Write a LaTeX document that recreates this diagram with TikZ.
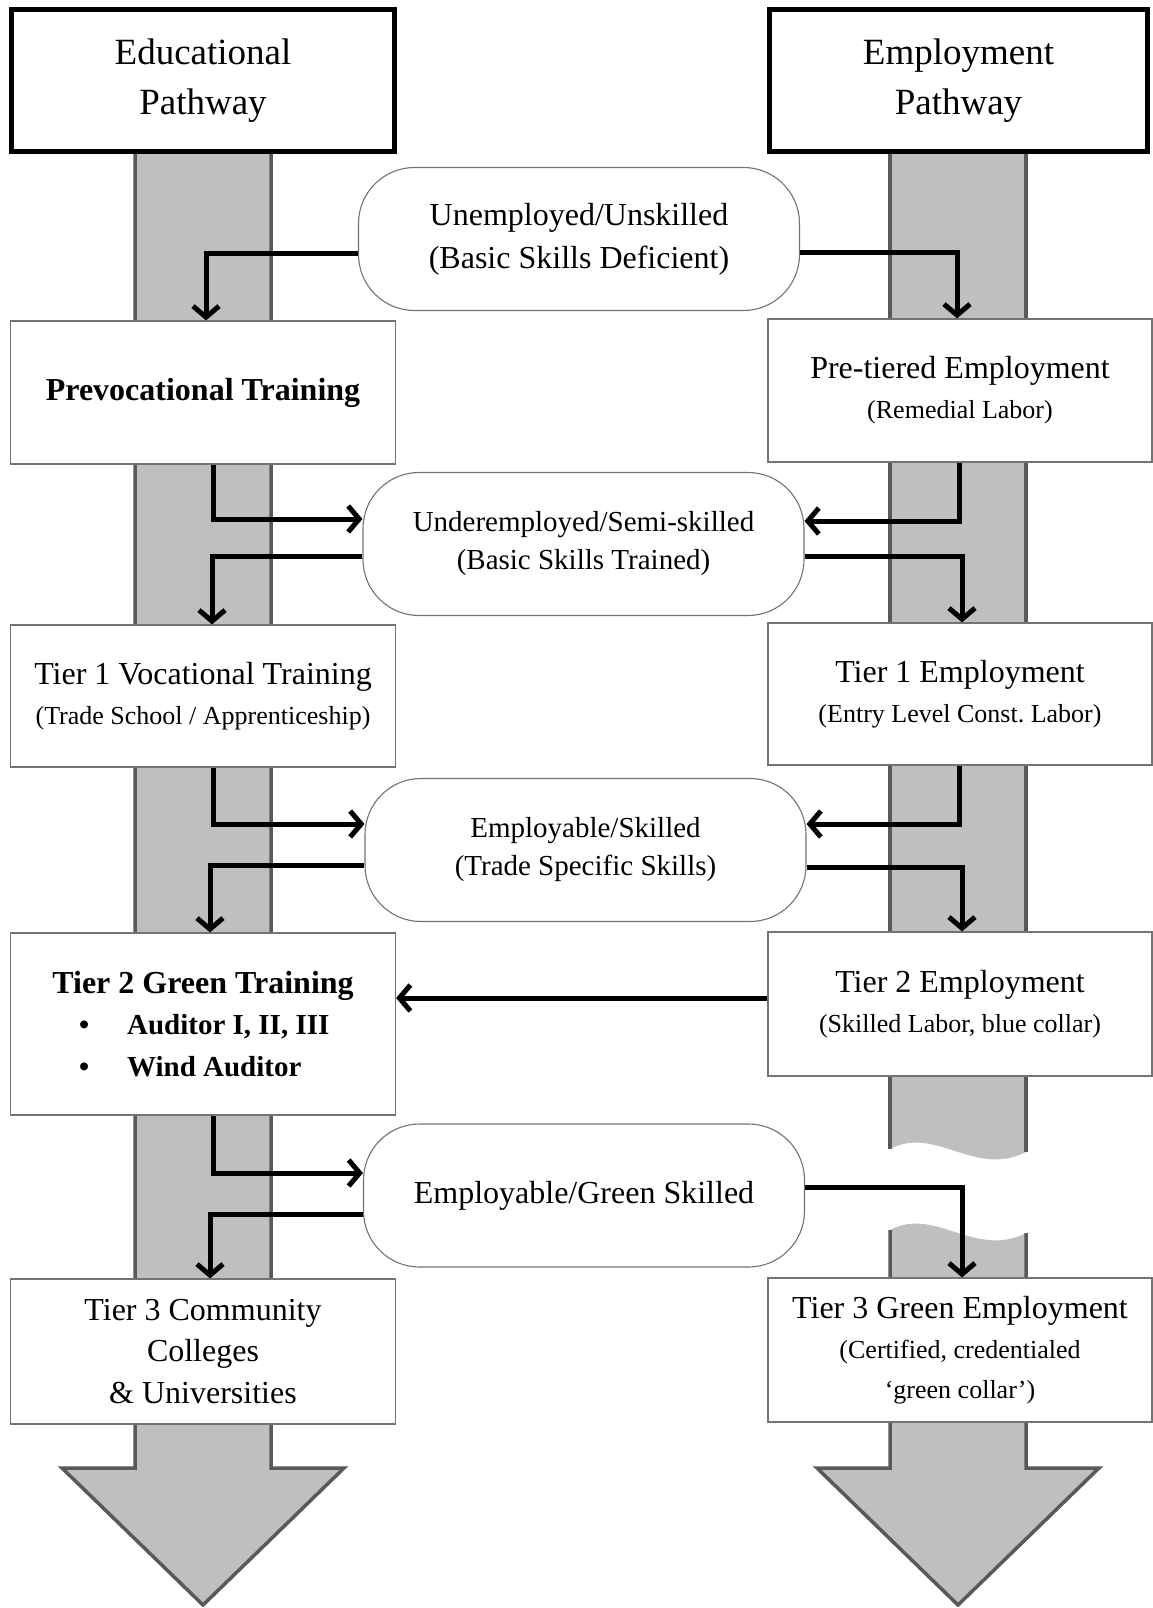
\documentclass[tikz,border=0pt]{standalone}
\usepackage{fontspec}
\setmainfont{Liberation Serif}
\usetikzlibrary{arrows.meta}
\definecolor{colfill}{gray}{0.75}
\definecolor{coledge}{gray}{0.35}
\definecolor{boxedge}{gray}{0.45}
\newcommand\subsz{\fontsize{26}{40}\selectfont}
\newcommand\bulsz{\fontsize{29}{41.5}\selectfont}
\begin{document}
\begin{tikzpicture}[x=1pt,y=-1pt,
  hdr/.style={draw=black, line width=5pt, fill=white, minimum width=383pt, minimum height=142pt, inner sep=0pt, align=center, font=\fontsize{37}{50}\selectfont},
  lbox/.style={draw=boxedge, line width=1.2pt, fill=white, minimum width=385pt, inner sep=0pt, align=center, font=\fontsize{32}{40}\selectfont},
  rbox/.style={lbox, minimum width=384pt},
  oval/.style={draw=boxedge, line width=1.1pt, fill=white, rounded corners=56pt, minimum width=441pt, minimum height=143pt, inner sep=0pt, align=center},
  arr/.style={line width=5pt, -{Straight Barb[length=11pt,width=26pt]}},
  coloutline/.style={draw=coledge, line width=3.5pt}
]
\path[use as bounding box, fill=white] (0,0) rectangle (1152,1608);

% left column
\path[fill=colfill, coloutline] (135,150) -- (135,1468) -- (62,1468) -- (203,1605) -- (344,1468) -- (271,1468) -- (271,150);

% right column, upper part
\fill[colfill] (890,150) -- (890,1149) .. controls (935,1125) and (975,1178) .. (1026,1152) -- (1026,150) -- cycle;
\draw[coloutline] (890,150) -- (890,1149);
\draw[coloutline] (1026,150) -- (1026,1152);
% right column, lower part
\fill[colfill] (890,1230) .. controls (935,1206) and (975,1259) .. (1026,1233) -- (1026,1468) -- (1099,1468) -- (958,1605) -- (817,1468) -- (890,1468) -- cycle;
\draw[coloutline] (1026,1233) -- (1026,1468) -- (1099,1468) -- (958,1605) -- (817,1468) -- (890,1468) -- (890,1230);

% headers
\node[hdr] (hl) at (203,81) {Educational\\Pathway};
\node[hdr, minimum width=378pt] (hr) at (958.5,81) {Employment\\Pathway};

% boxes
\node[lbox, minimum height=143pt, font=\fontsize{32}{40}\selectfont\bfseries] (pv) at (203,392.5) {Prevocational Training};
\node[rbox, minimum height=143pt] (pt) at (960,390.5) {Pre-tiered Employment\\\subsz(Remedial Labor)};
\node[lbox, minimum height=142pt] (t1v) at (203,696) {Tier 1 Vocational Training\\\subsz(Trade School / Apprenticeship)};
\node[rbox, minimum height=142pt] (t1e) at (960,694) {Tier 1 Employment\\\subsz(Entry Level Const.\ Labor)};
\node[lbox, minimum height=182pt, font=\fontsize{32}{41.5}\selectfont\bfseries] (t2g) at (203,1024)
  {Tier 2 Green Training\\
   \bulsz\makebox[260pt][l]{\hspace{6pt}\textbullet\hspace{38pt}Auditor I, II, III}\\
   \bulsz\makebox[260pt][l]{\hspace{6pt}\textbullet\hspace{38pt}Wind Auditor}};
\node[rbox, minimum height=144pt] (t2e) at (960,1004) {Tier 2 Employment\\\subsz(Skilled Labor, blue collar)};
\node[lbox, minimum height=145pt, font=\fontsize{32}{41.5}\selectfont] (t3c) at (203,1351.5) {Tier 3 Community\\Colleges\\\& Universities};
\node[rbox, minimum height=144pt] (t3e) at (960,1350) {Tier 3 Green Employment\\\subsz(Certified, credentialed\\\subsz‘green collar’)};

% ovals
\node[oval, font=\fontsize{32}{43}\selectfont] (o1) at (579,239) {Unemployed/Unskilled\\(Basic Skills Deficient)};
\node[oval, font=\fontsize{29}{38}\selectfont] (o2) at (583.5,544) {Underemployed/Semi-skilled\\(Basic Skills Trained)};
\node[oval, font=\fontsize{29}{38}\selectfont] (o3) at (585.5,850) {Employable/Skilled\\(Trade Specific Skills)};
\node[oval, font=\fontsize{32}{40}\selectfont] (o4) at (584,1195.5) {Employable/Green Skilled};

% connectors
\draw[arr] ([yshift=-14pt]o1.west) -| ([xshift=3pt]pv.north);
\draw[arr] ([yshift=-13pt]o1.east) -| ([xshift=-3pt]pt.north);

\draw[arr] ([xshift=10pt]pv.south) |- ([yshift=25pt]o2.west);
\draw[arr] ([yshift=-12pt]o2.west) -| ([xshift=9pt]t1v.north);
\draw[arr] ([xshift=-1pt]pt.south) |- ([yshift=23pt]o2.east);
\draw[arr] ([yshift=-12pt]o2.east) -| ([xshift=2pt]t1e.north);

\draw[arr] ([xshift=10pt]t1v.south) |- ([yshift=26pt]o3.west);
\draw[arr] ([yshift=-15pt]o3.west) -| ([xshift=7pt]t2g.north);
\draw[arr] ([xshift=-1pt]t1e.south) |- ([yshift=26pt]o3.east);
\draw[arr] ([yshift=-17pt]o3.east) -| ([xshift=2pt]t2e.north);

\draw[arr] ([yshift=6pt]t2e.west) -- ([yshift=6pt]t2e.west -| t2g.east);

\draw[arr] ([xshift=10pt]t2g.south) |- ([yshift=22.5pt]o4.west);
\draw[arr] ([yshift=-18.5pt]o4.west) -| ([xshift=7pt]t3c.north);
\draw[arr] ([yshift=8.5pt]o4.east) -| ([xshift=2pt]t3e.north);
\end{tikzpicture}
\end{document}
